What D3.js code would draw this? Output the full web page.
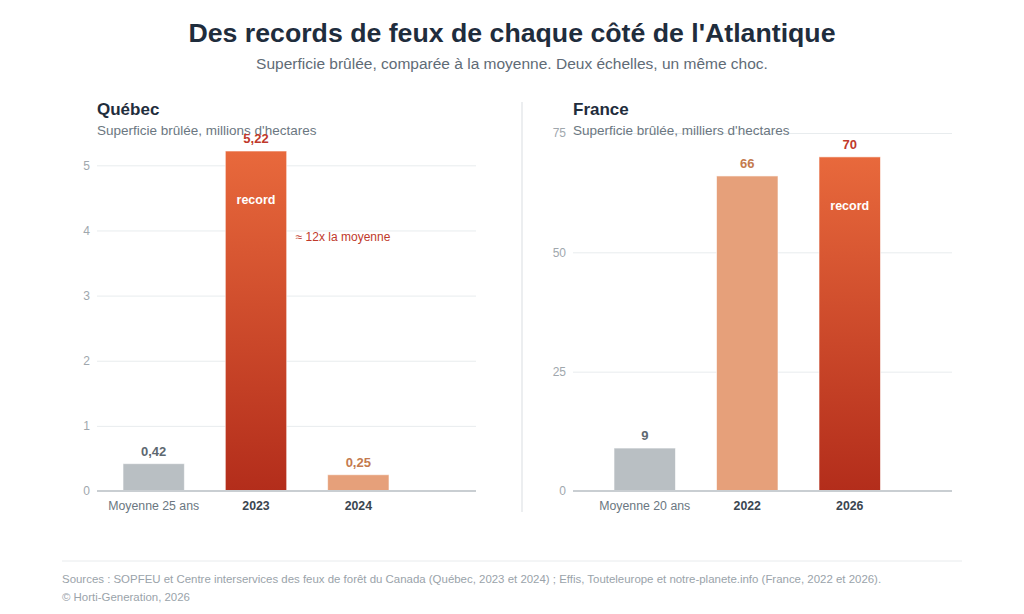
<!DOCTYPE html>
<html lang="fr">
<head>
<meta charset="utf-8">
<script src="https://cdn.jsdelivr.net/npm/d3@7"></script>
<style>
  html, body { margin: 0; padding: 0; background: #fff; }
  svg { display: block; font-family: "Liberation Sans", Arial, sans-serif; }
</style>
</head>
<body>
<svg id="chart" width="1024" height="614"></svg>
<script>
// data
const quebecCategories = ["Moyenne 25 ans", "2023", "2024"];
const quebecValues = [0.42, 5.22, 0.25];
const quebecKinds = ["moyenne", "record", "autre"];
const quebecTicks = [0, 1, 2, 3, 4, 5];

const franceCategories = ["Moyenne 20 ans", "2022", "2026"];
const franceValues = [9, 66, 70];
const franceKinds = ["moyenne", "autre", "record"];
const franceTicks = [0, 25, 50, 75];

const sources = "Sources : SOPFEU et Centre interservices des feux de forêt du Canada (Québec, 2023 et 2024) ; Effis, Touteleurope et notre-planete.info (France, 2022 et 2026).";
const credit = "© Horti-Generation, 2026";

const fr = d3.formatLocale({ decimal: ",", thousands: "\u202f", grouping: [3], currency: ["", " €"] });

const fills = { moyenne: "#b9bfc3", autre: "#e6a07a", record: "url(#gradRecord)" };
const labelColors = { moyenne: "#5d6870", autre: "#c47a4e", record: "#c0392b" };

const svg = d3.select("#chart");

const defs = svg.append("defs");
const grad = defs.append("linearGradient")
    .attr("id", "gradRecord")
    .attr("x1", 0).attr("y1", 0).attr("x2", 0).attr("y2", 1);
grad.append("stop").attr("offset", "0%").attr("stop-color", "#e8693c");
grad.append("stop").attr("offset", "100%").attr("stop-color", "#b32d1b");

// titles
svg.append("text")
    .attr("x", 512).attr("y", 42)
    .attr("text-anchor", "middle")
    .attr("font-size", 26.7).attr("font-weight", "bold")
    .attr("fill", "#1f2d3d")
    .text("Des records de feux de chaque côté de l'Atlantique");

svg.append("text")
    .attr("x", 512).attr("y", 69)
    .attr("text-anchor", "middle")
    .attr("font-size", 15.5)
    .attr("fill", "#5f6b76")
    .text("Superficie brûlée, comparée à la moyenne. Deux échelles, un même choc.");

function drawPanel(opts) {
    const { left, width, bottom, top, categories, values, kinds, ticks, yMax, xRange, fmt } = opts;
    const g = svg.append("g");

    const y = d3.scaleLinear().domain([0, yMax]).range([bottom, top]);
    const x = d3.scaleBand()
        .domain(categories)
        .range([left + xRange[0], left + xRange[1]])
        .paddingInner(0.4)
        .paddingOuter(0);

    // grid
    g.append("g")
        .attr("transform", `translate(${left},0)`)
        .call(d3.axisLeft(y).tickValues(ticks).tickFormat(d3.format("d")).tickSize(-width).tickPadding(7))
        .call(a => a.select(".domain").remove())
        .call(a => a.selectAll(".tick line").attr("stroke", "#e8ecee"))
        .call(a => a.selectAll(".tick text")
            .attr("fill", "#a0a7ad")
            .attr("font-size", 12)
            .attr("font-family", "Liberation Sans, Arial, sans-serif"));

    // panel title
    g.append("text")
        .attr("x", left).attr("y", 115)
        .attr("font-size", 17).attr("font-weight", "bold")
        .attr("fill", "#1f2d3d")
        .text(opts.title);
    g.append("text")
        .attr("x", left).attr("y", 135)
        .attr("font-size", 13.5)
        .attr("fill", "#6b7781")
        .text(opts.subtitle);

    // bars
    g.selectAll("rect.bar")
        .data(values)
        .join("rect")
        .attr("class", "bar")
        .attr("x", (d, i) => x(categories[i]))
        .attr("width", x.bandwidth())
        .attr("y", d => y(d))
        .attr("height", d => y(0) - y(d))
        .attr("fill", (d, i) => fills[kinds[i]])
        .attr("stroke", "#fff")
        .attr("stroke-opacity", 0.6)
        .attr("stroke-width", 1);

    // baseline
    g.append("line")
        .attr("x1", left).attr("x2", left + width)
        .attr("y1", y(0)).attr("y2", y(0))
        .attr("stroke", "#c9ced2").attr("stroke-width", 2);

    // value labels
    g.selectAll("text.val")
        .data(values)
        .join("text")
        .attr("class", "val")
        .attr("x", (d, i) => x(categories[i]) + x.bandwidth() / 2)
        .attr("y", d => y(d) - 8)
        .attr("text-anchor", "middle")
        .attr("font-size", 13).attr("font-weight", "bold")
        .attr("fill", (d, i) => labelColors[kinds[i]])
        .text(d => fmt(d));

    // record label inside
    g.selectAll("text.rec")
        .data(values.filter((d, i) => kinds[i] === "record"))
        .join("text")
        .attr("class", "rec")
        .attr("x", d => x(categories[values.indexOf(d)]) + x.bandwidth() / 2)
        .attr("y", d => y(d) + 53)
        .attr("text-anchor", "middle")
        .attr("font-size", 12.5).attr("font-weight", "bold")
        .attr("fill", "#fff")
        .text("record");

    // category labels
    g.selectAll("text.cat")
        .data(categories)
        .join("text")
        .attr("class", "cat")
        .attr("x", d => x(d) + x.bandwidth() / 2)
        .attr("y", bottom + 19)
        .attr("text-anchor", "middle")
        .attr("font-size", 12.3)
        .attr("fill", (d, i) => kinds[i] === "moyenne" ? "#6b7781" : "#3a4550")
        .attr("font-weight", (d, i) => kinds[i] === "moyenne" ? "normal" : "bold")
        .text(d => d);

    return { x, y, g };
}

const q = drawPanel({
    title: "Québec", subtitle: "Superficie brûlée, millions d'hectares",
    left: 97, width: 379, top: 151, bottom: 491,
    categories: quebecCategories, values: quebecValues, kinds: quebecKinds,
    ticks: quebecTicks, yMax: 5.22, xRange: [26, 292],
    fmt: fr.format(".2f")
});

// annotation
const recIdx = quebecKinds.indexOf("record");
q.g.append("text")
    .attr("x", q.x(quebecCategories[recIdx]) + q.x.bandwidth() + 9)
    .attr("y", q.y(4) + 11)
    .attr("font-size", 12)
    .attr("fill", "#c0392b")
    .text("≈ 12x la moyenne");

drawPanel({
    title: "France", subtitle: "Superficie brûlée, milliers d'hectares",
    left: 573, width: 379, top: 133, bottom: 491,
    categories: franceCategories, values: franceValues, kinds: franceKinds,
    ticks: franceTicks, yMax: 75, xRange: [41, 307.5],
    fmt: fr.format("d")
});

// divider
svg.append("line")
    .attr("x1", 522).attr("x2", 522)
    .attr("y1", 102).attr("y2", 512)
    .attr("stroke", "#e6e9eb").attr("stroke-width", 1.5);

// footer
svg.append("line")
    .attr("x1", 62).attr("x2", 962)
    .attr("y1", 561).attr("y2", 561)
    .attr("stroke", "#e8ebed").attr("stroke-width", 1);

svg.append("text")
    .attr("x", 62).attr("y", 583)
    .attr("font-size", 11.45)
    .attr("fill", "#9aa3aa")
    .text(sources);
svg.append("text")
    .attr("x", 62).attr("y", 601)
    .attr("font-size", 11.45)
    .attr("fill", "#9aa3aa")
    .text(credit);
</script>
</body>
</html>
